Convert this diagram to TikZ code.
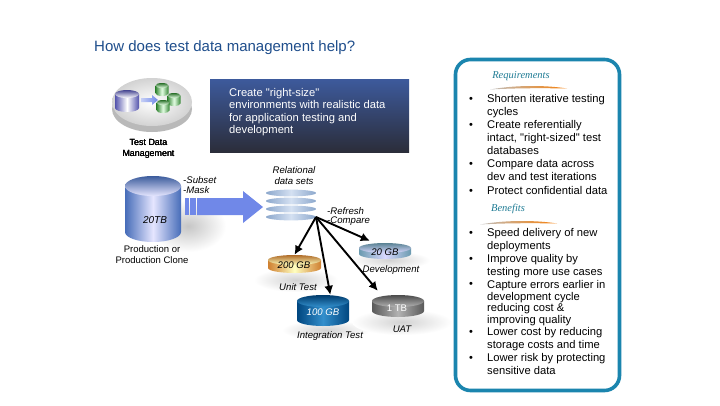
\documentclass[tikz,border=0pt]{standalone}
\usepackage{fontspec}
\setmainfont{Liberation Sans}[Ligatures=TeXOff]
\newfontfamily\headfont{Liberation Serif}
\usetikzlibrary{arrows.meta}
\definecolor{titleblue}{HTML}{1F4E8C}
\definecolor{framecol}{HTML}{1B85AE}
\definecolor{headteal}{HTML}{1F7C95}
\definecolor{bandblue}{HTML}{7088E8}
\definecolor{boxtop}{HTML}{3D5A9C}
\definecolor{boxbottom}{HTML}{2B2D3A}
\definecolor{stackside}{HTML}{8CA8CC}
\definecolor{stacklit}{HTML}{D4E0F2}
\tikzset{
  itemtext/.style={anchor=north west,inner sep=0pt,align=left,font=\fontsize{11.2}{13}\selectfont},
  itemdot/.style={inner sep=0pt,font=\fontsize{11}{11}\selectfont},
  headtext/.style={inner sep=0pt,text=headteal,font=\headfont\itshape\fontsize{10.5}{12}\selectfont},
  plainlabel/.style={inner sep=0pt,align=center,font=\fontsize{8.9}{10.5}\selectfont},
  itlabel/.style={plainlabel,font=\itshape\fontsize{9.6}{11}\selectfont},
  sizelabel/.style={inner sep=0pt,font=\itshape\fontsize{9.6}{11}\selectfont},
  feedline/.style={line width=1.9pt,-{Latex[length=9pt,width=9pt]}}
}
% name, centre x, top y, bottom y, half width, end radius, side colour, lit colour
\newcommand{\dbcyl}[8]{
\colorlet{cylside}{#7}
\colorlet{cyllit}{#8}
\node[inner sep=0pt,minimum width=2*#5pt,minimum height=#4pt-#3pt] (#1) at (#2,{(#3+#4)/2}) {};
\shade[left color=cylside,right color=cylside,middle color=cyllit]
  (#2-#5,#3+#6) -- (#2-#5,#4-#6) arc (180:360:#5pt and #6pt) -- (#2+#5,#3+#6) -- cycle;
\shade[top color=cylside!85!black,bottom color=cyllit] (#2,#3+#6) ellipse (#5pt and #6pt);
}
\begin{document}
\begin{tikzpicture}[x=1pt,y=-1pt]
\useasboundingbox[fill=white] (0,0) rectangle (720,405);
\node[anchor=west,inner sep=0pt,text=titleblue,font=\fontsize{15}{17}\selectfont] (title) at (94,48) {How does test data management help?};
% right panel
\node[draw=framecol,line width=3.6pt,rounded corners=15pt,minimum width=164pt,minimum height=331pt,inner sep=0pt] (panel) at (537.5,225) {};
\node[headtext] (reqhead) at (521,76) {Requirements};
\shade[left color=gray!50,right color=orange!85!brown] (490,89.5) .. controls (515,85) and (545,85) .. (567,88.5) .. controls (545,88) and (515,88) .. cycle;
\node[itemtext] (req1) at (487,94) {Shorten iterative testing\\cycles};
\node[itemtext] (req2) at (487,120) {Create referentially\\intact, "right-sized" test\\databases};
\node[itemtext] (req3) at (487,159) {Compare data across\\dev and test iterations};
\node[itemtext] (req4) at (487,186) {Protect confidential data};
\node[itemdot] (reqdot1) at (471,100) {•};
\node[itemdot] (reqdot2) at (471,126) {•};
\node[itemdot] (reqdot3) at (471,165) {•};
\node[itemdot] (reqdot4) at (471,192) {•};
\node[headtext] (benhead) at (508,209) {Benefits};
\shade[left color=gray!50,right color=orange!85!brown] (480,224.5) .. controls (505,220) and (535,220) .. (557,223.5) .. controls (535,223) and (505,223) .. cycle;
\node[itemtext] (ben1) at (487,228) {Speed delivery of new\\deployments};
\node[itemtext] (ben2) at (487,254) {Improve quality by\\testing more use cases};
\node[itemtext,font=\fontsize{11.2}{11.8}\selectfont] (ben3) at (487,280) {Capture errors earlier in\\development cycle\\reducing cost \&\\improving quality};
\node[itemtext] (ben4) at (487,327) {Lower cost by reducing\\storage costs and time};
\node[itemtext] (ben5) at (487,353) {Lower risk by protecting\\sensitive data};
\foreach \n/\y in {1/234,2/260,3/285,4/333,5/359}
  \node[itemdot] (bendot\n) at (471,\y) {•};
% blue box
\node[top color=boxtop,bottom color=boxbottom,inner sep=0pt,minimum width=199pt,minimum height=73pt] (sizebox) at (309.5,115.5) {};
\node[anchor=north west,inner sep=0pt,align=left,text=white,font=\fontsize{11.2}{12.4}\selectfont] (sizetext) at (229,88) {Create "right-size"\\environments with realistic data\\for application testing and\\development};
% icon
\fill[gray!55] (152,109) ellipse (40pt and 23pt);
\shade[inner color=white,outer color=gray!35] (152,102) ellipse (40pt and 24pt);
\dbcyl{iconsrc}{127}{90}{112}{12}{4}{blue!35!gray}{white}
\shade[left color=bandblue!40,right color=bandblue] (141,98) -- (152,98) -- (152,95) -- (158,100) -- (152,105) -- (152,102) -- (141,102) -- cycle;
\foreach \n/\x/\y in {a/162/83,b/174/93,c/163/100}
  \dbcyl{green\n}{\x}{\y}{\y+13}{6.5}{2.5}{green!40!black!80}{green!10!white}
\node[plainlabel] (tdmlabel) at (148.5,149) {Test Data\\Management};
% source database
\shade[inner color=gray!45,outer color=white] (188,226) ellipse (38pt and 26pt);
\dbcyl{sourcedb}{153}{176}{242}{28}{10}{blue!35!gray!85!cyan}{blue!10!white}
\node[inner sep=0pt,font=\itshape\fontsize{10}{12}\selectfont] (sourcesize) at (155,220) {20TB};
\node[plainlabel,font=\fontsize{9.5}{11}\selectfont] (sourcelabel) at (152,254.5) {Production or\\Production Clone};
\node[itlabel,anchor=west] (subset) at (183,180) {-Subset};
\node[itlabel,anchor=west] (mask) at (183,190) {-Mask};
% block arrow
\fill[bandblue] (185,198) rectangle (189,215);
\fill[bandblue] (190,198) rectangle (196,215);
\fill[bandblue] (197,198) -- (243,198) -- (243,191) -- (263,207) -- (243,223) -- (243,215) -- (197,215) -- cycle;
% stack
\node[itlabel] (setlabel) at (294,176) {Relational\\data sets};
\foreach \y in {193,201,209,217}
  \shade[left color=stackside,right color=stackside,middle color=stacklit] (291,\y) ellipse (25pt and 3.4pt);
\coordinate (hub) at (316,217);
\node[itlabel,anchor=west] (refresh) at (327,211) {-Refresh};
\node[itlabel,anchor=west] (compare) at (327,221) {-Compare};
% targets
\shade[inner color=gray!35,outer color=white] (390,260) ellipse (40pt and 9pt);
\shade[inner color=gray!35,outer color=white] (296,280) ellipse (42pt and 12pt);
\shade[inner color=gray!35,outer color=white] (326,330) ellipse (44pt and 10pt);
\shade[inner color=gray!35,outer color=white] (402,322) ellipse (50pt and 13pt);
\dbcyl{devdb}{385}{243}{259}{26}{5}{blue!30!cyan!30!gray!90}{blue!15!white}
\dbcyl{unitdb}{294.5}{255}{273}{26.5}{5}{brown!75!orange}{yellow!25!white}
\dbcyl{intdb}{323}{295}{326}{26}{6}{blue!45!cyan!50!black}{blue!40!cyan!60!gray}
\dbcyl{uatdb}{398}{295}{317}{26}{6}{black!65}{gray!60}
\node[sizelabel] (devsize) at (385,252) {20 GB};
\node[sizelabel] (unitsize) at (294,265) {200 GB};
\node[sizelabel,text=white] (intsize) at (323,312) {100 GB};
\node[sizelabel,text=white,font=\fontsize{9.6}{11}\selectfont] (uatsize) at (397,308) {1 TB};
\node[itlabel] (devlabel) at (391,270) {Development};
\node[itlabel] (unitlabel) at (298,287) {Unit Test};
\node[itlabel] (intlabel) at (330,336) {Integration Test};
\node[itlabel] (uatlabel) at (402,329) {UAT};
\path[draw,feedline] (hub) -- ([xshift=11pt,yshift=2pt]devdb.north west);
\path[draw,feedline] (hub) -- (unitdb.north);
\path[draw,feedline] (hub) -- (intdb.65);
\path[draw,feedline] (hub) -- ([xshift=6pt,yshift=4pt]uatdb.north west);
\end{tikzpicture}
\end{document}
